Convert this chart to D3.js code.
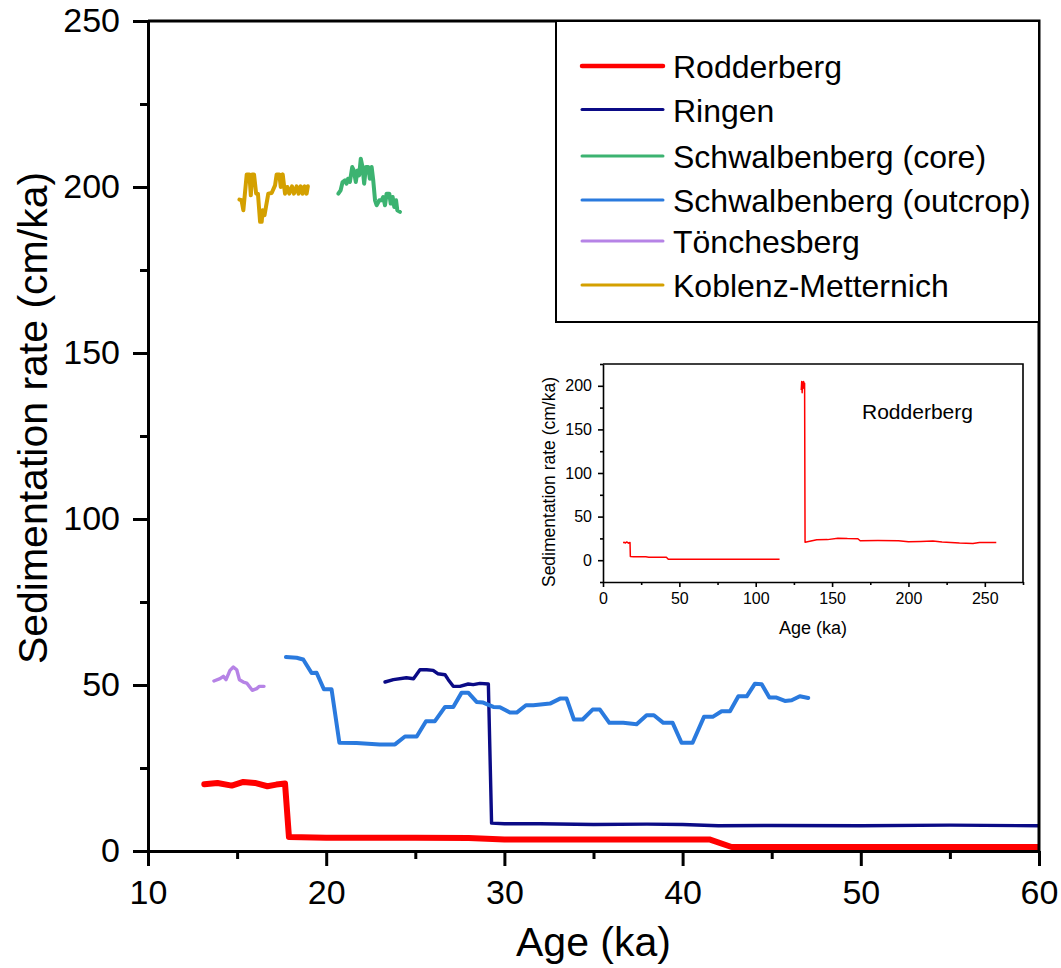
<!DOCTYPE html>
<html>
<head>
<meta charset="utf-8">
<script src="https://cdn.jsdelivr.net/npm/d3@7"></script>
<style>
  html, body { margin: 0; padding: 0; background: #fff; }
  svg { display: block; font-family: "Liberation Sans", Arial, sans-serif; }
</style>
</head>
<body>
<svg id="chart" width="1061" height="968"></svg>
<script>
// ---- Sedimentation-rate records (age in ka, rate in cm/ka) ----
const seriesNames = ["Rodderberg", "Ringen", "Schwalbenberg (core)",
  "Schwalbenberg (outcrop)", "Tönchesberg", "Koblenz-Metternich"];
const seriesColors = ["#ff0000", "#0b0b86", "#3cb371", "#2a7ade", "#b683e6", "#d4a000"];

// Rodderberg: full record (main panel shows 10–60 ka, inset shows everything)
const rodderbergAge = [13.16, 13.9, 14.7, 15.35, 16.0, 16.7, 17.2, 17.69, 17.91, 20, 25, 28, 30, 35,
  41.5, 42.75, 50, 60, 80, 100, 115.6, null,
  129.8, 130.1, 130.4, 130.7, 131.0, 131.3, 131.7, 132.0, 132.3, 140, 147, 153.8, 160, 166.9,
  168.4, 180, 193.5, 200, 208, 216, 222, 233.4, 242.2, 246.5, 257.5];
const rodderbergRate = [20.1, 20.5, 19.7, 20.8, 20.5, 19.5, 20.0, 20.3, 4.2, 4.0, 4.0, 3.9, 3.5, 3.5,
  3.5, 1.2, 1.2, 1.2, 1.2, 1.2, 1.2, null,
  195, 205, 192, 204, 197, 205, 203, 203, 20.5, 23.4, 23.6, 25.3, 24.8, 24.6,
  22.3, 22.5, 22.3, 21.2, 21.4, 21.9, 20.8, 19.6, 19.2, 20.3, 20.3];

const ringenAge = [23.3, 23.77, 24.5, 24.9, 25.26, 25.64, 26.0, 26.26, 26.67, 26.85, 27.13, 27.5,
  27.97, 28.25, 28.63, 29.1, 29.28, 30, 32, 35, 38, 40, 42, 45, 50, 55, 60];
const ringenRate = [50.9, 51.6, 52.2, 51.9, 54.6, 54.6, 54.4, 53.4, 53.1, 51.6, 49.6, 49.6,
  50.3, 50.1, 50.5, 50.3, 8.4, 8.2, 8.2, 8.0, 8.1, 8.0, 7.6, 7.7, 7.6, 7.8, 7.6];

const coreAge = [20.68, 20.81, 20.92, 21.05, 21.14, 21.23, 21.33, 21.46, 21.55, 21.66, 21.76, 21.85,
  21.94, 22.04, 22.13, 22.23, 22.36, 22.45, 22.55, 22.64, 22.74, 22.83, 22.98, 23.11, 23.2, 23.3,
  23.39, 23.54, 23.62, 23.73, 23.82, 23.92, 23.99, 24.14];
const coreRate = [198.0, 199.0, 201.5, 202.0, 201.0, 202.5, 201.5, 206.0, 205.0, 201.5, 205.0, 203.5,
  208.5, 206.0, 201.0, 206.0, 206.0, 202.5, 206.0, 202.0, 196.0, 194.5, 196.0, 196.0, 197.0, 194.5,
  198.0, 198.0, 195.0, 197.0, 194.0, 196.0, 193.0, 192.5];

const outcropAge = [17.74, 18.34, 18.71, 19.18, 19.46, 19.87, 20.3, 20.74, 21.7, 23.0, 23.86, 24.42,
  25.08, 25.6, 26.1, 26.67, 27.13, 27.6, 27.97, 28.44, 28.81, 29.38, 29.75, 30.31, 30.69, 31.21,
  31.62, 32.56, 33.12, 33.49, 33.9, 34.39, 34.95, 35.36, 35.89, 36.67, 37.42, 37.98, 38.39, 38.92,
  39.44, 39.94, 40.56, 41.2, 41.69, 42.19, 42.66, 43.13, 43.6, 44.06, 44.44, 44.87, 45.27, 45.74,
  46.12, 46.58, 47.05];
const outcropRate = [58.4, 58.2, 57.7, 53.6, 53.7, 48.7, 48.7, 32.6, 32.5, 32.1, 32.1, 34.5,
  34.5, 39.1, 39.1, 43.4, 43.4, 47.7, 47.7, 44.9, 44.7, 43.4, 43.3, 41.7, 41.7, 43.9,
  43.9, 44.4, 45.9, 45.9, 39.6, 39.6, 42.6, 42.6, 38.6, 38.6, 38.2, 40.9, 40.9, 38.6,
  38.6, 32.6, 32.6, 40.4, 40.4, 42.1, 42.1, 46.6, 46.6, 50.4, 50.2, 46.2, 46.2, 45.2,
  45.4, 46.6, 46.1];

const tonchesbergAge = [13.7, 14.04, 14.23, 14.38, 14.6, 14.79, 14.98, 15.13, 15.35, 15.54, 15.85,
  16.1, 16.25, 16.51];
const tonchesbergRate = [51.2, 51.9, 52.6, 51.6, 54.4, 55.4, 54.6, 51.6, 50.9, 50.6, 48.4,
  48.9, 49.6, 49.6];

const koblenzAge = [15.13, 15.25, 15.35, 15.54, 15.69, 15.77, 15.84, 15.95, 16.07, 16.17, 16.29,
  16.38, 16.43, 16.54, 16.62, 16.75, 16.94, 17.13, 17.22, 17.37, 17.45, 17.56, 17.69, 17.82, 17.93,
  18.08, 18.19, 18.34, 18.45, 18.57, 18.68, 18.79, 18.9, 18.97];
const koblenzRate = [196.2, 196.0, 193.0, 203.8, 203.8, 197.5, 203.8, 203.8, 198.0, 198.0, 189.5,
  189.5, 193.0, 191.5, 194.0, 198.0, 198.2, 200.5, 203.8, 203.8, 200.0, 203.8, 198.0, 200.0, 198.0,
  200.2, 198.0, 200.2, 198.0, 200.2, 198.0, 200.2, 198.0, 200.2];

// Axis ticks
const xTicks = [10, 20, 30, 40, 50, 60];
const xMinorTicks = [15, 25, 35, 45, 55];
const yTicks = [0, 50, 100, 150, 200, 250];
const yMinorTicks = [25, 75, 125, 175, 225];
const insetXTicks = [0, 50, 100, 150, 200, 250];
const insetXMinorTicks = [25, 75, 125, 175, 225, 275];
const insetYTicks = [0, 50, 100, 150, 200];
const insetYMinorTicks = [-25, 25, 75, 125, 175, 225];

const zip = (a, b) => a.map((v, i) => ({ x: v, y: b[i] }));
const series = [
  { name: seriesNames[0], color: seriesColors[0], data: zip(rodderbergAge, rodderbergRate), width: 6, legendWidth: 4.5 },
  { name: seriesNames[1], color: seriesColors[1], data: zip(ringenAge, ringenRate), width: 3.4, legendWidth: 3 },
  { name: seriesNames[2], color: seriesColors[2], data: zip(coreAge, coreRate), width: 4, legendWidth: 3 },
  { name: seriesNames[3], color: seriesColors[3], data: zip(outcropAge, outcropRate), width: 4, legendWidth: 3 },
  { name: seriesNames[4], color: seriesColors[4], data: zip(tonchesbergAge, tonchesbergRate), width: 3.4, legendWidth: 3 },
  { name: seriesNames[5], color: seriesColors[5], data: zip(koblenzAge, koblenzRate), width: 4, legendWidth: 3 }
];

const svg = d3.select("#chart");

// ---- Main panel ----
const pL = 148, pR = 1039, pT = 21, pB = 851;
const x = d3.scaleLinear().domain([10, 60]).range([pL, pR]);
const y = d3.scaleLinear().domain([0, 250]).range([pB, pT]);

svg.append("clipPath").attr("id", "plotClip")
  .append("rect").attr("x", pL).attr("y", pT).attr("width", pR - pL).attr("height", pB - pT);

const line = d3.line()
  .defined(d => d.x != null && d.y != null)
  .x(d => x(d.x)).y(d => y(d.y));

const plot = svg.append("g").attr("clip-path", "url(#plotClip)");
// draw order: Rodderberg on top
[1, 3, 4, 2, 5, 0].forEach(i => {
  const s = series[i];
  plot.append("path").datum(s.data)
    .attr("fill", "none").attr("stroke", s.color)
    .attr("stroke-width", s.width).attr("stroke-linejoin", "round").attr("stroke-linecap", "round")
    .attr("d", line);
});

function styleAxis(g, sw, fs) {
  g.select(".domain").attr("stroke", "#000").attr("stroke-width", sw);
  g.selectAll(".tick line").attr("stroke", "#000").attr("stroke-width", sw);
  g.selectAll(".tick text").attr("fill", "#000").style("font-size", fs + "px")
    .style("font-family", '"Liberation Sans", Arial, sans-serif');
}

const xAxis = svg.append("g").attr("transform", `translate(0,${pB})`)
  .call(d3.axisBottom(x).tickValues(xTicks).tickSize(15).tickSizeOuter(0).tickPadding(14).tickFormat(d3.format("d")));
styleAxis(xAxis, 3, 34);
const xMinor = svg.append("g").attr("transform", `translate(0,${pB})`)
  .call(d3.axisBottom(x).tickValues(xMinorTicks).tickSize(8).tickSizeOuter(0).tickFormat(""));
styleAxis(xMinor, 3, 34);
xMinor.select(".domain").remove();

const yAxis = svg.append("g").attr("transform", `translate(${pL},0)`)
  .call(d3.axisLeft(y).tickValues(yTicks).tickSize(15).tickSizeOuter(0).tickPadding(13).tickFormat(d3.format("d")));
styleAxis(yAxis, 3, 34);
const yMinor = svg.append("g").attr("transform", `translate(${pL},0)`)
  .call(d3.axisLeft(y).tickValues(yMinorTicks).tickSize(8).tickSizeOuter(0).tickFormat(""));
styleAxis(yMinor, 3, 34);
yMinor.select(".domain").remove();

// frame: top and right edges
svg.append("path")
  .attr("d", `M${pL},${pT}H${pR}V${pB}`)
  .attr("fill", "none").attr("stroke", "#000").attr("stroke-width", 3);

// axis titles
svg.append("text").attr("x", (pL + pR) / 2).attr("y", 956)
  .attr("text-anchor", "middle").style("font-size", "41px").text("Age (ka)");
svg.append("text").attr("transform", "translate(47,418) rotate(-90)")
  .attr("text-anchor", "middle").style("font-size", "41px").text("Sedimentation rate (cm/ka)");

// ---- Legend ----
const legend = svg.append("g");
legend.append("rect").attr("x", 556).attr("y", pT).attr("width", pR - 556).attr("height", 301)
  .attr("fill", "#fff").attr("stroke", "#000").attr("stroke-width", 2);
const rowY = [66, 109.5, 156, 200, 241, 285];
series.forEach((s, i) => {
  legend.append("line").attr("x1", 582).attr("x2", 663).attr("y1", rowY[i]).attr("y2", rowY[i])
    .attr("stroke", s.color).attr("stroke-width", s.legendWidth).attr("stroke-linecap", "round");
  legend.append("text").attr("x", 673).attr("y", rowY[i] + 12)
    .style("font-size", "32px").attr("fill", "#000").text(s.name);
});

// ---- Inset: full Rodderberg record ----
const iL = 603, iR = 1023, iT = 364, iB = 582;
const ix = d3.scaleLinear().domain([0, 275]).range([iL, iR]);
const iy = d3.scaleLinear().domain([-25, 225]).range([iB, iT]);
const inset = svg.append("g");
inset.append("rect").attr("x", iL).attr("y", iT).attr("width", iR - iL).attr("height", iB - iT)
  .attr("fill", "#fff");
const iline = d3.line()
  .defined(d => d.x != null && d.y != null)
  .x(d => ix(d.x)).y(d => iy(d.y));
inset.append("path").datum(series[0].data)
  .attr("fill", "none").attr("stroke", seriesColors[0]).attr("stroke-width", 1.5)
  .attr("stroke-linejoin", "round").attr("d", iline);

const ixAxis = inset.append("g").attr("transform", `translate(0,${iB})`)
  .call(d3.axisBottom(ix).tickValues(insetXTicks).tickSize(5).tickSizeOuter(0).tickPadding(6));
styleAxis(ixAxis, 1.6, 16);
const ixMinor = inset.append("g").attr("transform", `translate(0,${iB})`)
  .call(d3.axisBottom(ix).tickValues(insetXMinorTicks).tickSize(3).tickSizeOuter(0).tickFormat(""));
styleAxis(ixMinor, 1.6, 16);
ixMinor.select(".domain").remove();
const iyAxis = inset.append("g").attr("transform", `translate(${iL},0)`)
  .call(d3.axisLeft(iy).tickValues(insetYTicks).tickSize(5).tickSizeOuter(0).tickPadding(6));
styleAxis(iyAxis, 1.6, 16);
const iyMinor = inset.append("g").attr("transform", `translate(${iL},0)`)
  .call(d3.axisLeft(iy).tickValues(insetYMinorTicks).tickSize(3).tickSizeOuter(0).tickFormat(""));
styleAxis(iyMinor, 1.6, 16);
iyMinor.select(".domain").remove();
inset.append("path").attr("d", `M${iL},${iT}H${iR}V${iB}`)
  .attr("fill", "none").attr("stroke", "#000").attr("stroke-width", 1.6);

inset.append("text").attr("x", (iL + iR) / 2).attr("y", 634)
  .attr("text-anchor", "middle").style("font-size", "18px").text("Age (ka)");
inset.append("text").attr("transform", `translate(555,${(iT + iB) / 2 + 9}) rotate(-90)`)
  .attr("text-anchor", "middle").style("font-size", "17.5px").text("Sedimentation rate (cm/ka)");
inset.append("text").attr("x", 862).attr("y", 419)
  .style("font-size", "21px").text(seriesNames[0]);
</script>
</body>
</html>
